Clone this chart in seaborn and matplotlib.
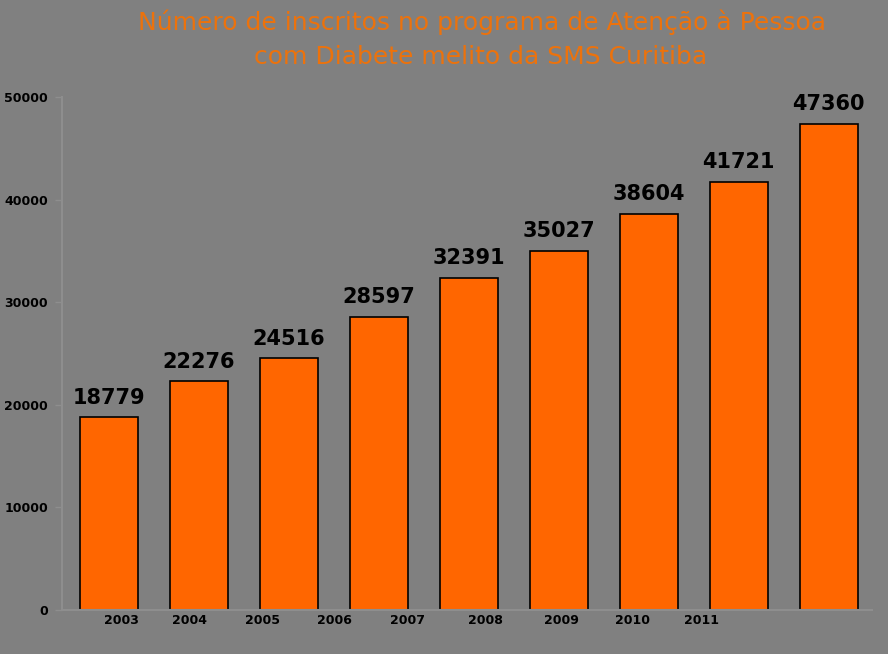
import matplotlib
matplotlib.use("Agg")
import matplotlib.pyplot as plt
import seaborn as sns
import pandas as pd

years = ["2003", "2004", "2005", "2006", "2007", "2008", "2009", "2010", "2011"]
values = [18779, 22276, 24516, 28597, 32391, 35027, 38604, 41721, 47360]
bar_ids = list(range(len(values)))
title_lines = ["Número de inscritos no programa de Atenção à Pessoa",
               "com Diabete melito da SMS Curitiba"]

BG = "#808080"
ORANGE = "#FF6600"
TITLE_C = "#EC720C"

sns.set_style("white")
plt.rcParams['font.family'] = ['DejaVu Sans']

fig = plt.figure(figsize=(8.88, 6.54), dpi=100, facecolor=BG)
ax = fig.add_axes([62/888, 1-610/654, (872-62)/888, (610-97)/654])
ax.set_facecolor(BG)

df = pd.DataFrame({"id": bar_ids, "value": values})
sns.barplot(data=df, x="id", y="value", color=ORANGE, edgecolor="black",
            linewidth=1.2, width=0.64, saturation=1, ax=ax)

for p, v in zip(ax.patches, values):
    ax.annotate(str(v), (p.get_x() + p.get_width()/2, p.get_height()),
                xytext=(0, 7), textcoords="offset points", ha="center", va="bottom",
                fontsize=15, fontweight="heavy", color="black", annotation_clip=False)

ax.set_xlim(-0.52, 8.48)
ax.set_ylim(0, 50000)
ax.set_yticks([0, 10000, 20000, 30000, 40000, 50000])
ax.set_yticklabels(["0", "10000", "20000", "30000", "40000", "50000"],
                   fontsize=9, fontweight="bold", color="black")
# year labels as placed in the original (offset from bars)
label_pos = [0.14, 0.90, 1.71, 2.51, 3.32, 4.18, 5.03, 5.82, 6.59]
ax.set_xticks(label_pos)
ax.set_xticklabels(years, fontsize=9, fontweight="bold", color="black")
ax.tick_params(axis="x", length=0, pad=3)
ax.tick_params(axis="y", length=5, width=1, color="#8e8e8e", pad=5, left=True)
ax.set_xlabel("")
ax.set_ylabel("")
for s in ["top", "right"]:
    ax.spines[s].set_visible(False)
for s in ["left", "bottom"]:
    ax.spines[s].set_color("#8e8e8e")
    ax.spines[s].set_linewidth(1.5)

fig.text(0.543, 1-22/654, title_lines[0], ha="center", va="center",
         fontsize=18, color=TITLE_C)
fig.text(0.541, 1-57/654, title_lines[1], ha="center", va="center",
         fontsize=18, color=TITLE_C)

fig.savefig("out.png", dpi=100, facecolor=BG)
